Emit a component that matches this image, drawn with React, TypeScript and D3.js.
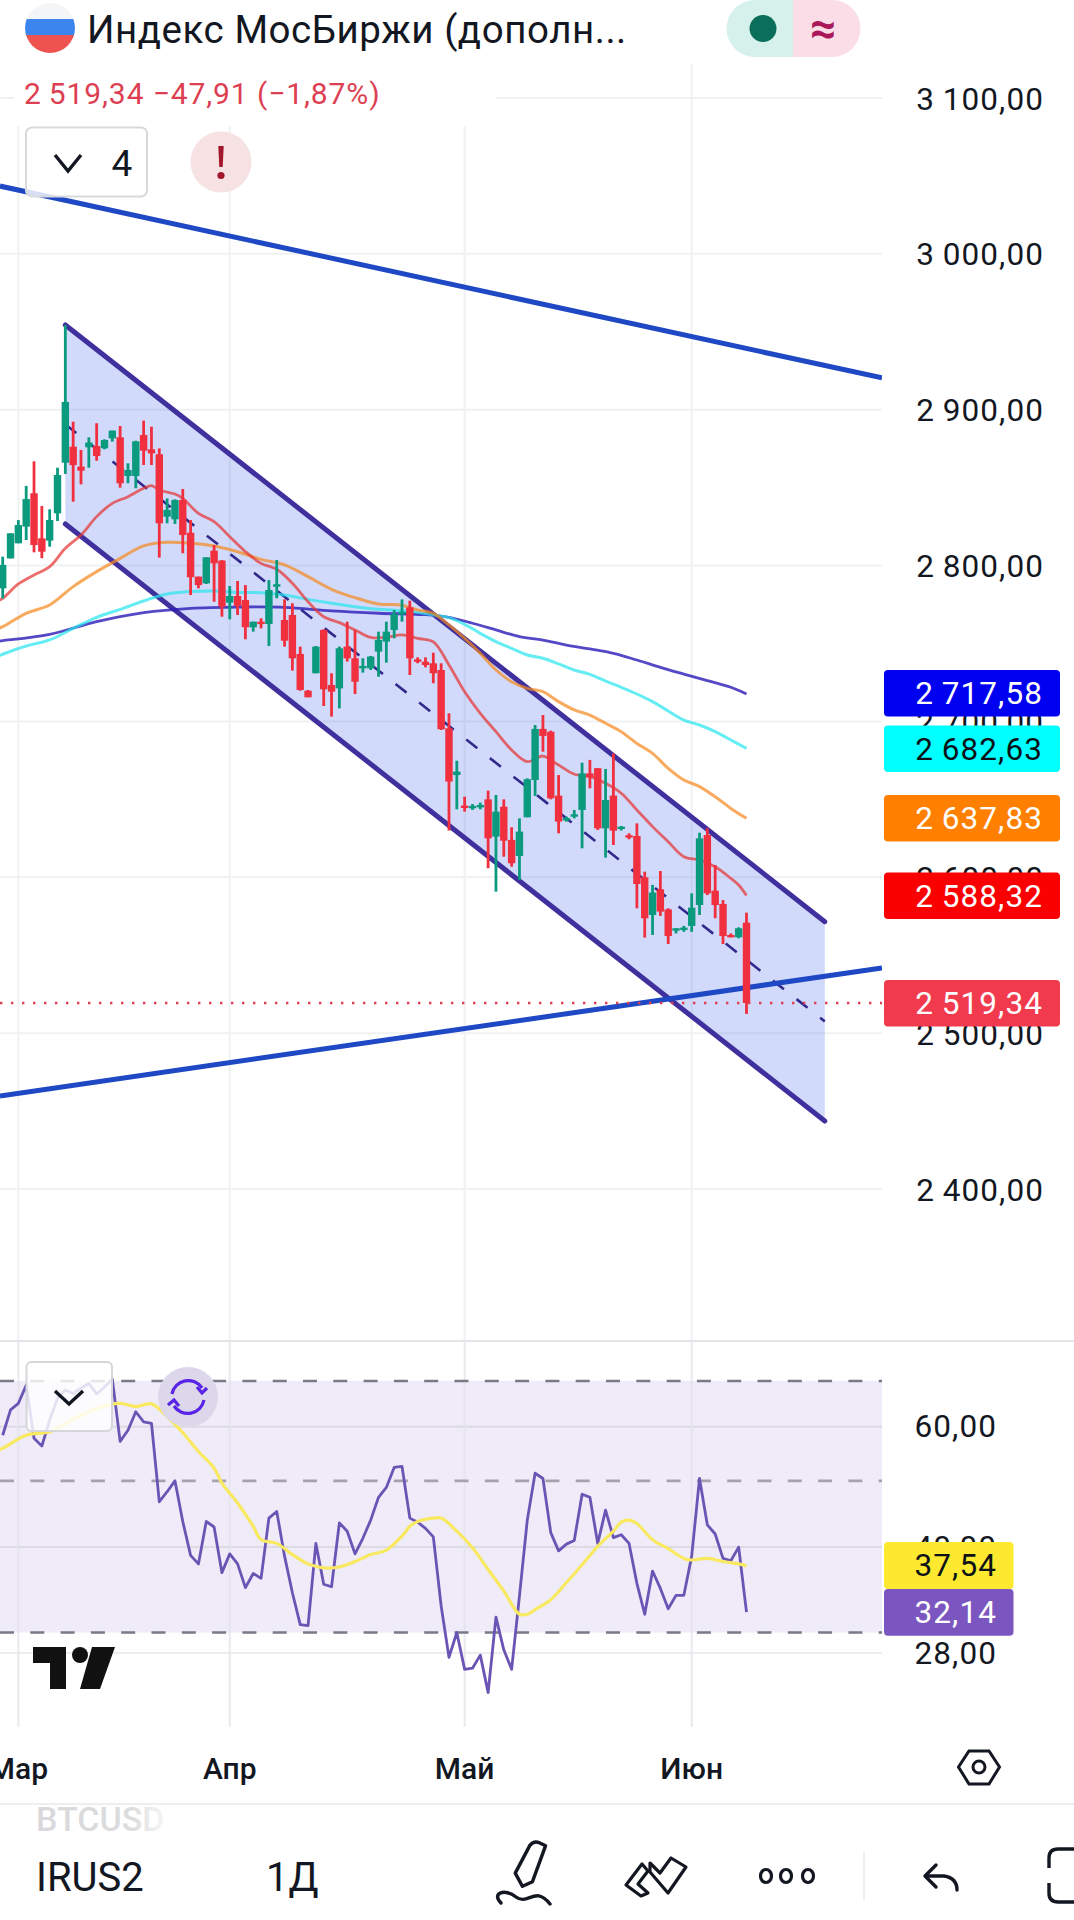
import React from "react";
import * as d3 from "d3";

// ---------- price data (daily bars) ----------
const barOpen = [2785.4,2804.6,2814.3,2825.0,2846.4,2817.5,2816.0,2833.5,2866.0,2876.3,2863.5,2875.9,2876.7,2875.2,2881.6,2882.3,2857.5,2857.5,2883.8,2874.6,2871.4,2831.4,2829.7,2842.1,2821.1,2792.9,2788.6,2809.6,2803.2,2776.2,2780.5,2777.9,2760.4,2764.0,2762.5,2786.9,2765.1,2768.3,2743.3,2719.7,2730.9,2758.7,2723.4,2721.2,2748.0,2740.5,2734.1,2734.1,2744.8,2751.2,2758.7,2768.9,2773.2,2739.8,2738.3,2737.3,2733.0,2695.6,2665.6,2646.0,2644.5,2644.9,2650.0,2626.1,2645.3,2624.0,2613.7,2638.5,2662.4,2695.2,2693.4,2652.4,2636.8,2639.3,2643.2,2666.7,2670.0,2631.4,2652.4,2631.2,2627.0,2626.5,2600.0,2575.8,2592.3,2579.4,2565.8,2566.2,2568.8,2582.2,2627.1,2591.4,2582.9,2563.0,2561.5,2570.9];
const barHigh = [2805.7,2820.7,2829.2,2851.1,2866.9,2838.2,2836.1,2862.8,2954.4,2892.3,2874.2,2882.3,2891.3,2881.0,2886.6,2889.6,2865.6,2880.1,2893.0,2889.1,2875.2,2843.1,2842.5,2849.1,2829.2,2792.9,2805.3,2813.2,2803.6,2786.9,2790.1,2787.5,2764.0,2766.2,2790.7,2803.6,2778.3,2775.8,2748.0,2720.2,2748.4,2759.1,2730.9,2748.0,2764.0,2758.7,2740.5,2742.0,2757.6,2764.0,2771.5,2778.3,2777.5,2741.1,2741.1,2744.1,2737.3,2705.2,2674.8,2651.7,2647.0,2647.9,2655.6,2652.8,2650.0,2632.1,2637.8,2663.5,2697.7,2704.1,2694.1,2665.6,2638.9,2643.2,2673.5,2675.3,2670.0,2669.5,2679.5,2632.9,2628.2,2634.6,2603.6,2595.1,2604.0,2580.1,2567.3,2568.8,2589.7,2628.6,2631.4,2607.9,2585.4,2564.0,2567.9,2577.3];
const barLow = [2779.0,2804.6,2814.3,2816.4,2808.5,2804.7,2812.1,2828.6,2858.8,2841.0,2852.1,2862.8,2867.3,2874.6,2879.5,2850.0,2852.8,2849.6,2864.5,2864.5,2805.1,2827.1,2826.7,2807.9,2781.1,2785.4,2788.2,2776.8,2767.2,2765.5,2768.3,2752.7,2757.6,2759.7,2748.4,2779.0,2748.0,2732.6,2719.7,2715.5,2730.9,2709.9,2703.1,2708.4,2738.4,2717.6,2731.3,2733.0,2728.7,2737.7,2753.3,2764.0,2729.8,2737.3,2734.7,2724.5,2694.5,2630.0,2643.6,2642.1,2643.2,2643.6,2605.8,2590.8,2613.2,2606.8,2598.3,2638.5,2652.2,2680.6,2650.0,2628.2,2635.7,2637.8,2618.6,2657.1,2630.4,2612.6,2620.7,2630.0,2624.4,2580.1,2561.3,2563.0,2575.2,2557.2,2564.0,2565.0,2565.0,2575.8,2588.6,2573.7,2557.2,2561.5,2560.8,2512.3];
const barClose = [2800.4,2820.7,2826.0,2842.7,2813.2,2808.9,2829.2,2858.1,2905.0,2864.5,2860.9,2878.9,2870.3,2880.6,2886.6,2852.8,2861.3,2879.7,2873.7,2872.0,2827.1,2835.7,2842.1,2819.6,2792.5,2787.5,2805.3,2801.4,2773.6,2780.5,2774.1,2760.4,2764.0,2762.5,2784.3,2788.0,2751.8,2740.5,2720.2,2715.5,2748.0,2720.6,2719.1,2746.9,2740.5,2725.5,2735.6,2741.6,2752.3,2757.6,2768.9,2770.4,2740.5,2738.3,2736.2,2730.9,2695.0,2661.4,2667.8,2644.5,2645.8,2646.4,2625.0,2642.1,2623.5,2609.0,2629.3,2662.9,2695.2,2690.7,2650.7,2635.7,2638.0,2640.4,2666.7,2664.1,2631.4,2649.6,2629.9,2632.5,2625.7,2595.7,2573.7,2590.2,2578.0,2562.3,2567.3,2567.7,2580.5,2625.0,2589.7,2582.2,2562.3,2561.9,2567.3,2519.34];

// ---------- moving averages ----------
const ma20Bars = [-1,0,2,4,6,8,10,12,14,16,18,19,20,22,23,25,27,29,31,33,35,37,39,41,43,45,47,49,51,53,55,57,59,61,63,65,67,69,71,73,75,77,79,81,83,85,87,89,91,93,94,95];
const ma20Vals = [2776.5,2779.0,2788.2,2794.0,2799.3,2811.1,2819.6,2831.4,2839.9,2844.2,2849.6,2851.3,2848.5,2845.9,2843.1,2833.5,2828.2,2818.5,2808.9,2801.4,2797.6,2788.6,2776.8,2767.2,2763.4,2758.7,2754.0,2754.0,2755.5,2753.3,2751.0,2736.2,2719.1,2705.2,2693.4,2681.7,2674.2,2677.8,2672.0,2666.1,2664.6,2660.3,2653.9,2643.2,2632.5,2622.8,2613.2,2611.1,2606.8,2599.3,2595.1,2588.32];
const ma50Bars = [-1,0,3,6,9,12,15,18,21,24,27,30,33,36,39,42,45,48,51,53,55,57,59,61,63,65,67,69,71,73,75,77,79,81,83,85,87,89,91,93,95];
const ma50Vals = [2758.5,2760.8,2769.4,2774.7,2786.5,2796.1,2804.6,2812.6,2814.9,2814.3,2812.6,2808.9,2804.0,2800.4,2792.9,2784.8,2779.4,2775.4,2774.5,2771.5,2769.4,2761.9,2753.3,2743.7,2733.0,2725.5,2721.2,2719.1,2712.7,2707.4,2704.1,2698.8,2693.4,2685.9,2679.5,2669.9,2662.4,2658.2,2651.7,2644.2,2637.83];
const ma100Bars = [-1,0,3,6,9,12,15,18,21,24,27,30,33,36,39,42,45,48,51,53,55,57,59,61,63,65,67,69,71,73,75,77,79,81,83,85,87,89,91,93,95];
const ma100Vals = [2741.0,2743.1,2748.4,2752.3,2759.7,2766.8,2771.9,2777.3,2781.8,2783.3,2783.7,2782.8,2782.6,2781.1,2778.3,2775.8,2773.6,2771.9,2771.1,2770.0,2768.3,2766.6,2762.3,2756.5,2751.2,2746.9,2742.6,2740.5,2736.9,2733.0,2730.2,2725.9,2721.9,2717.6,2712.7,2706.7,2700.9,2697.7,2693.4,2688.1,2682.63];
const ma200Bars = [-1,0,6,12,18,24,30,36,42,48,54,57,60,63,66,69,72,75,78,81,84,87,90,93,95];
const ma200Vals = [2751.2,2751.8,2755.9,2764.0,2769.8,2772.6,2773.4,2773.2,2770.9,2769.4,2768.5,2766.8,2763.0,2758.7,2754.4,2752.2,2749.0,2746.5,2743.7,2739.4,2734.7,2730.4,2726.2,2721.9,2717.58];

// ---------- RSI pane ----------
const rsiVals = [58.3,63.5,64.9,69.0,57.7,56.2,61.4,66.0,67.9,67.1,68.3,69.4,67.0,68.6,70.4,57.1,59.3,63.1,61.0,60.7,46.6,48.2,50.0,43.6,38.9,37.8,43.6,42.8,36.7,39.1,37.8,34.9,36.6,36.0,44.1,45.1,38.8,34.3,30.8,30.7,40.5,35.3,35.0,43.4,42.2,39.1,41.2,43.8,47.3,48.9,52.3,52.5,44.1,43.5,42.6,41.4,32.8,27.6,30.0,26.5,26.6,27.8,24.5,31.6,28.3,26.5,33.9,43.8,51.3,50.4,42.0,39.5,40.4,40.9,47.8,47.3,40.5,45.3,41.3,41.7,40.5,35.4,31.9,36.9,34.8,32.5,34.0,34.0,38.8,50.4,43.1,41.8,38.5,38.2,40.0,32.14];
const rsiMaBars = [-1,0,3,6,9,12,15,17,19,21,23,25,27,28,30,32,33,35,37,39,41,43,45,47,49,51,52,53,55,56,58,60,62,64,66,67,68,70,72,74,76,78,79,80,81,83,85,87,88,90,92,94,95];
const rsiMaVals = [55.2,55.8,58.3,59.0,61.5,63.8,64.9,64.2,64.8,62.1,58.8,55.2,52.2,49.6,46.4,42.9,41.0,40.5,39.0,37.8,37.3,37.4,38.1,39.0,39.6,41.5,42.9,43.6,44.1,44.1,42.2,39.9,37.1,34.5,31.9,31.9,32.4,33.5,35.5,37.7,40.1,42.2,43.5,43.8,43.3,41.0,39.8,38.5,38.3,38.5,38.1,37.8,37.54];
const rsiBands = [70, 50, 30];
const rsiTicks = [60, 40, 28];

// ---------- drawings ----------
const channelBars = [8, 105];
const channelTop = [2954.4, 2571.5];
const channelBottom = [2826.7, 2443.6];
const trendBars = [-0.35, 112.3];
const trendUpper = [3043.5, 2920.4];
const trendLower = [2459.7, 2541.8];

const priceTicks = [3100, 3000, 2900, 2800, 2700, 2600, 2500, 2400];
const monthBars = [2, 29, 59, 88];
const monthLabels = ["Мар", "Апр", "Май", "Июн"];
const lastPrice = 2519.34;
const priceTags = [
  { label: 2717.58, bg: "#0000f0", fg: "#ffffff" },
  { label: 2682.63, bg: "#00ffff", fg: "#0c1216" },
  { label: 2637.83, bg: "#ff8000", fg: "#ffffff" },
  { label: 2588.32, bg: "#fa0000", fg: "#ffffff" },
  { label: 2519.34, bg: "#f23a4f", fg: "#ffffff" },
];
const rsiTags = [
  { label: 37.54, bg: "#fde92f", fg: "#0c1216" },
  { label: 32.14, bg: "#7c56c0", fg: "#ffffff" },
];

const FONT = "Roboto, 'Noto Sans', sans-serif";
const INK = "#131722";
const GRID = "#f0f1f3";

const loc = d3.formatLocale({ decimal: ",", thousands: "\u2009", grouping: [3], currency: ["", ""], minus: "\u2212" });
const fmt = loc.format(",.2f");

const x = d3.scaleLinear().domain([0, 95]).range([2.7, 746.5]);
const y = d3.scaleLinear().domain([2400, 3100]).range([1189, 98]);
const yRsi = d3.scaleLog().domain([28, 60]).range([1653, 1426.7]);

function maPath(bars: number[], vals: number[], ys: (v: number) => number) {
  const pts = bars.map((b, i) => [x(b), ys(vals[i])] as [number, number]);
  return d3.line().curve(d3.curveCatmullRom.alpha(0.5))(pts) as string;
}

export default function App() {
  const chartRight = 882;
  const x8 = x(channelBars[0]), x105 = x(channelBars[1]);
  const channelD = `M${x8},${y(channelTop[0])}L${x105},${y(channelTop[1])}L${x105},${y(channelBottom[1])}L${x8},${y(channelBottom[0])}Z`;
  const midA = (channelTop[0] + channelBottom[0]) / 2;
  const midB = (channelTop[1] + channelBottom[1]) / 2;
  const rsiLine = d3.line<number>().x((_, i) => x(i)).y((v) => yRsi(v))(rsiVals) as string;

  const tag = (t: { label: number; bg: string; fg: string }, i: number, top: number, w: number, tx: number) => (
    <g key={i}>
      <rect x={884} y={top} width={w} height={46.5} rx={4} fill={t.bg} />
      <text x={tx} y={top + 23.5} textAnchor="end" dominantBaseline="central" fontSize={31.5} letterSpacing={1.1} fill={t.fg}>
        {fmt(t.label)}
      </text>
    </g>
  );
  const tagTops = [670, 725.5, 795, 872.5, 980];

  return (
    <svg width={1074} height={1920} viewBox="0 0 1074 1920" style={{ position: "absolute", left: 0, top: 0, display: "block", background: "#fff" }} fontFamily={FONT}>
      <defs>
        <clipPath id="pane"><rect x={0} y={0} width={chartRight} height={1340} /></clipPath>
        <clipPath id="rsiPane"><rect x={0} y={1342} width={chartRight} height={386} /></clipPath>
        <clipPath id="flag"><circle cx={50} cy={28} r={25} /></clipPath>
        <clipPath id="btc"><rect x={0} y={1806} width={300} height={40} /></clipPath>
        <linearGradient id="btcFade" x1="0" x2="1" y1="0" y2="0">
          <stop offset="0" stopColor="#d9d9dc" />
          <stop offset="0.75" stopColor="#dcdcde" />
          <stop offset="1" stopColor="#f6f6f7" />
        </linearGradient>
      </defs>

      {/* main pane grid */}
      {priceTicks.map((t) => (
        <line key={t} x1={0} x2={chartRight} y1={y(t)} y2={y(t)} stroke={GRID} strokeWidth={2} />
      ))}
      {monthBars.map((b) => (
        <line key={b} x1={x(b)} x2={x(b)} y1={0} y2={1340} stroke={GRID} strokeWidth={2} />
      ))}

      <g clipPath="url(#pane)">
        {/* channel */}
        <path d={channelD} fill="#2f55e8" fillOpacity={0.22} />
        <line x1={x8} x2={x105} y1={y(midA)} y2={y(midB)} stroke="#33288c" strokeWidth={2.6} strokeDasharray="14 16" />
        <line x1={x8} x2={x105} y1={y(channelTop[0])} y2={y(channelTop[1])} stroke="#40309e" strokeWidth={5} strokeLinecap="round" />
        <line x1={x8} x2={x105} y1={y(channelBottom[0])} y2={y(channelBottom[1])} stroke="#40309e" strokeWidth={5} strokeLinecap="round" />
        {/* trend lines */}
        <line x1={x(trendBars[0])} x2={x(trendBars[1])} y1={y(trendUpper[0])} y2={y(trendUpper[1])} stroke="#1e48c4" strokeWidth={5} />
        <line x1={x(trendBars[0])} x2={x(trendBars[1])} y1={y(trendLower[0])} y2={y(trendLower[1])} stroke="#1e48c4" strokeWidth={5} />

        {/* moving averages */}
        <path d={maPath(ma200Bars, ma200Vals, y)} fill="none" stroke="#2a1ab8" strokeOpacity={0.8} strokeWidth={2.8} />
        <path d={maPath(ma100Bars, ma100Vals, y)} fill="none" stroke="#25e6ee" strokeOpacity={0.7} strokeWidth={3} />
        <path d={maPath(ma50Bars, ma50Vals, y)} fill="none" stroke="#f58a20" strokeOpacity={0.72} strokeWidth={3} />
        <path d={maPath(ma20Bars, ma20Vals, y)} fill="none" stroke="#e63434" strokeOpacity={0.72} strokeWidth={2.8} />

        {/* candles */}
        {barOpen.map((o, i) => {
          const c = barClose[i];
          const col = c >= o ? "#0b9a7e" : "#f0303f";
          const top = y(Math.max(o, c));
          const h = Math.max(2.4, Math.abs(y(o) - y(c)));
          return (
            <g key={i}>
              <line x1={x(i)} x2={x(i)} y1={y(barHigh[i])} y2={y(barLow[i])} stroke={col} strokeWidth={2.8} />
              <rect x={x(i) - 3.7} y={top} width={7.4} height={h} fill={col} />
            </g>
          );
        })}

        {/* last price line */}
        <line x1={0} x2={chartRight} y1={y(lastPrice)} y2={y(lastPrice)} stroke="#df3f52" strokeWidth={2.4} strokeDasharray="2.4 8.6" />
      </g>

      {/* legend backdrop */}
      <rect x={0} y={0} width={chartRight} height={64} fill="#fff" />
      <rect x={14} y={64} width={482} height={62} fill="#fff" />

      {/* title */}
      <g clipPath="url(#flag)">
        <rect x={25} y={3} width={50} height={17} fill="#f4f5f7" />
        <rect x={25} y={19} width={50} height={17} fill="#3c84ee" />
        <rect x={25} y={35} width={50} height={18} fill="#ef5350" />
      </g>
      <text x={87} y={29} dominantBaseline="central" fontSize={38.5} letterSpacing={0.55} fill={INK}>Индекс МосБиржи (дополн...</text>

      {/* status pill */}
      <path d="M793,0H755a28,28,0,0,0,0,57H793Z" fill="#d6f0ec" />
      <path d="M793,0H832a28,28,0,0,1,0,57H793Z" fill="#fbdde8" />
      <circle cx={763} cy={28.5} r={13.5} fill="#0a6e5a" />
      <text x={823} y={28} textAnchor="middle" dominantBaseline="central" fontSize={46} fontWeight={700} fill="#a8185b">≈</text>

      {/* price line */}
      <text x={24} y={93} dominantBaseline="central" fontSize={30} letterSpacing={0.9} fill="#dd3f52">
        {fmt(lastPrice) + "  \u221247,91 (\u22121,87%)"}
      </text>

      {/* indicators button */}
      <rect x={26} y={127.5} width={121} height={69} rx={6} fill="#fff" fillOpacity={0.82} stroke="#d8d9dc" strokeWidth={2} />
      <path d="M55,155L68,171L81,155" fill="none" stroke={INK} strokeWidth={3.4} />
      <text x={122} y={163} textAnchor="middle" dominantBaseline="central" fontSize={37} fill={INK}>4</text>
      <circle cx={221} cy={162} r={30.5} fill="#f6e1e3" />
      <path d="M218.3,146h5.4l-1,21h-3.4Z" fill="#a3172d" />
      <circle cx={221} cy={175.5} r={3.6} fill="#a3172d" />

      {/* price axis */}
      {priceTicks.map((t) => (
        <text key={t} x={1044} y={y(t) + 1} textAnchor="end" dominantBaseline="central" fontSize={31.5} letterSpacing={1.1} fill={INK}>
          {fmt(t)}
        </text>
      ))}
      {priceTags.map((t, i) => tag(t, i, tagTops[i], 176, 1043))}

      {/* separator */}
      <line x1={0} x2={1074} y1={1341} y2={1341} stroke="#e4e5e8" strokeWidth={2} />

      {/* RSI pane */}
      <rect x={0} y={yRsi(rsiBands[0])} width={chartRight} height={yRsi(rsiBands[2]) - yRsi(rsiBands[0])} fill="#7e57c2" fillOpacity={0.12} />
      {rsiTicks.map((t) => (
        <line key={t} x1={0} x2={chartRight} y1={yRsi(t)} y2={yRsi(t)} stroke="#d8d8de" strokeOpacity={t === 28 ? 0.45 : 0.85} strokeWidth={2} />
      ))}
      {monthBars.map((b) => (
        <line key={b} x1={x(b)} x2={x(b)} y1={1342} y2={1727} stroke="#e4e3ea" strokeOpacity={0.8} strokeWidth={2} />
      ))}
      {rsiBands.map((b) => (
        <line key={b} x1={0} x2={chartRight} y1={yRsi(b)} y2={yRsi(b)} stroke={b === 50 ? "#a5a2ad" : "#787b86"} strokeWidth={2.6} strokeDasharray="14 16.3" />
      ))}
      <g clipPath="url(#rsiPane)">
        <path d={rsiLine} fill="none" stroke="#6a55b5" strokeWidth={2.8} strokeLinejoin="round" />
        <path d={maPath(rsiMaBars, rsiMaVals, yRsi)} fill="none" stroke="#f8e960" strokeWidth={3.2} />
      </g>
      {/* RSI buttons */}
      <rect x={26.5} y={1362} width={85.5} height={69} rx={5} fill="#fff" fillOpacity={0.82} stroke="#d6d6da" strokeWidth={2} />
      <path d="M55,1391L69,1404L83,1391" fill="none" stroke={INK} strokeWidth={3.4} />
      <circle cx={188} cy={1397} r={30} fill="#dcd7ea" />
      <g fill="none" stroke="#5a24e6" strokeWidth={3.2}>
        <path d="M172,1394a16.5,16.5,0,0,1,30,-6" />
        <path d="M204,1400a16.5,16.5,0,0,1,-30,6" />
        <path d="M207,1388l-5,5l-5,-6" />
        <path d="M168,1405l6,-5l5,6" />
      </g>

      {/* RSI axis */}
      {rsiTicks.map((t) => (
        <text key={t} x={997} y={yRsi(t)} textAnchor="end" dominantBaseline="central" fontSize={31.5} letterSpacing={1.1} fill={INK}>
          {fmt(t)}
        </text>
      ))}
      {rsiTags.map((t, i) => (
        <g key={i}>
          <rect x={884} y={1542 + i * 47} width={129.5} height={i === 0 ? 47 : 46.7} rx={4} fill={t.bg} />
          <text x={997} y={1565.5 + i * 47} textAnchor="end" dominantBaseline="central" fontSize={31.5} letterSpacing={1.1} fill={t.fg}>
            {fmt(t.label)}
          </text>
        </g>
      ))}

      {/* TradingView mark */}
      <path d="M33,1647H66V1689H50V1663H33Z" fill="#111" />
      <circle cx={80} cy={1655} r={8} fill="#111" />
      <path d="M92,1647H115L100,1689H80Z" fill="#111" />

      {/* time axis */}
      {monthBars.map((b, i) => (
        <text key={b} x={x(b)} y={1768} textAnchor="middle" dominantBaseline="central" fontSize={30} fontWeight={500} fill={INK}>
          {monthLabels[i]}
        </text>
      ))}
      <path d="M969,1751H989L999.5,1767L989,1784H969L958.5,1767Z" fill="none" stroke={INK} strokeWidth={3} />
      <circle cx={979} cy={1767} r={6} fill="none" stroke={INK} strokeWidth={3} />
      <line x1={0} x2={1074} y1={1804} y2={1804} stroke="#e8e9eb" strokeWidth={1.5} />

      {/* bottom bar */}
      <g clipPath="url(#btc)">
        <text x={36} y={1819} dominantBaseline="central" fontSize={34} fontWeight={500} fill="url(#btcFade)">BTCUSD</text>
      </g>
      <text x={36} y={1877} dominantBaseline="central" fontSize={40} fill={INK}>IRUS2</text>
      <text x={266} y={1877} dominantBaseline="central" fontSize={40} fill={INK}>1Д</text>
      {/* draw tool */}
      <g fill="none" stroke={INK} strokeWidth={3.4} strokeLinejoin="round" strokeLinecap="round">
        <path d="M510,1882L509,1867L534,1848Q540,1845 544,1850L548,1855L521,1882Z" transform="rotate(-25 528 1865) translate(4 0) scale(1 1)" />
        <path d="M501,1903C491,1893 505,1888 516,1897C528,1906 535,1885 550,1904" />
      </g>
      {/* favourites */}
      <g fill="none" stroke={INK} strokeWidth={3.2} strokeLinejoin="round">
        <path d="M626,1885L642,1864L648,1871L638,1884L648,1893L641,1896Z" />
        <path d="M650,1863L660,1873L671,1858L686,1867L668,1893L650,1872Z" />
      </g>
      {/* more */}
      {[766, 786, 808].map((cx) => (
        <ellipse key={cx} cx={cx} cy={1876} rx={5.5} ry={6.5} fill="none" stroke={INK} strokeWidth={3.2} />
      ))}
      <line x1={864} x2={864} y1={1852} y2={1900} stroke="#e8e9eb" strokeWidth={1.5} />
      {/* undo */}
      <g fill="none" stroke={INK} strokeWidth={3.4} strokeLinecap="round" strokeLinejoin="round">
        <path d="M936,1865L925,1876L936,1887" />
        <path d="M926,1876H944Q957,1878 957,1890" />
      </g>
      {/* cut-off frame */}
      <g fill="none" stroke={INK} strokeWidth={3.4}>
        <path d="M1074,1849H1058Q1049,1849 1049,1858V1868" />
        <path d="M1049,1883V1893Q1049,1902 1058,1902H1074" />
      </g>
    </svg>
  );
}
